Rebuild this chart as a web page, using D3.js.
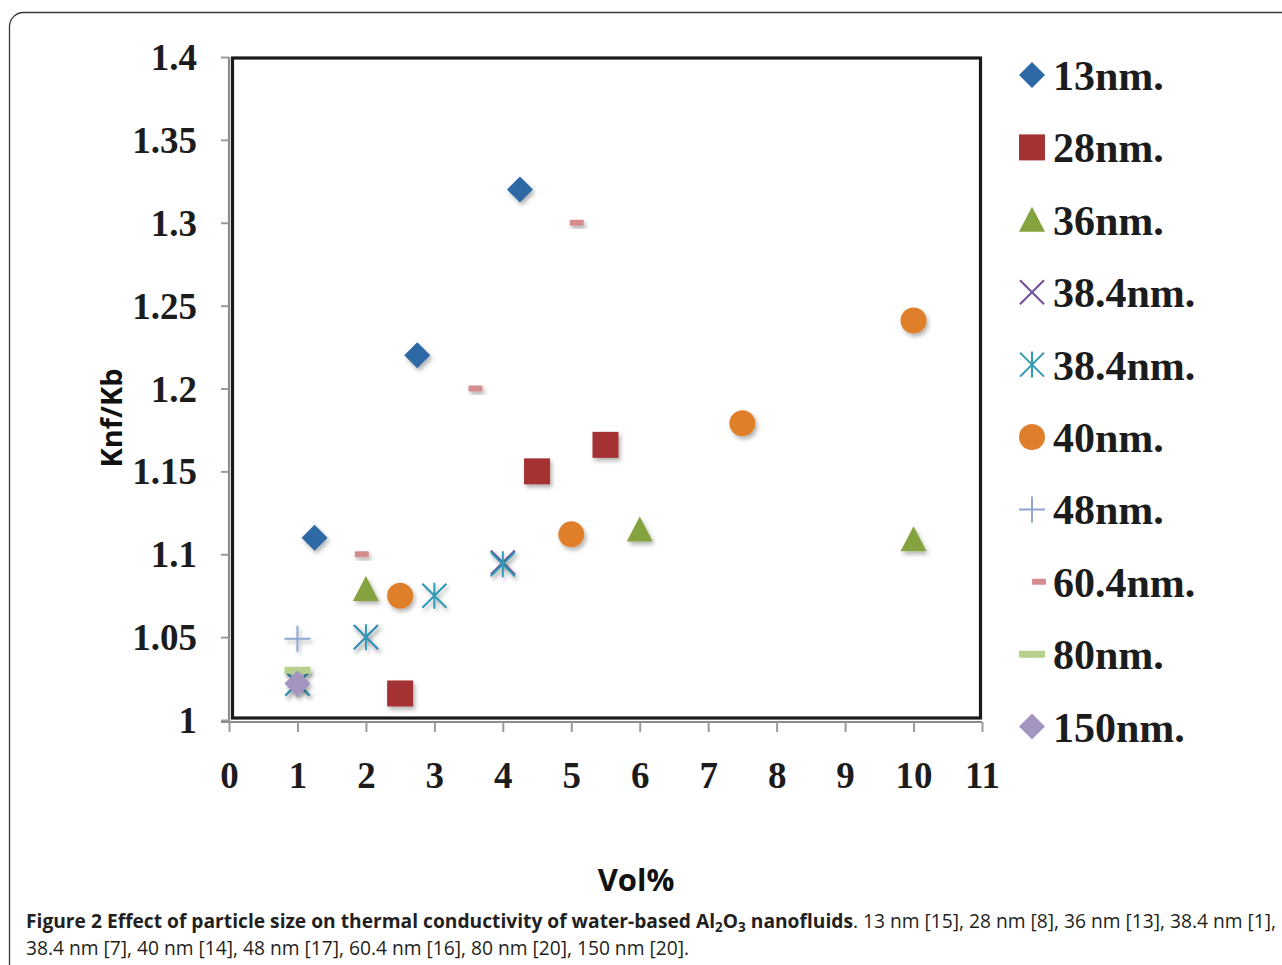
<!DOCTYPE html>
<html><head><meta charset="utf-8">
<script src="https://cdn.jsdelivr.net/npm/d3@7"></script>
<style>
html,body{margin:0;padding:0;background:#fff;}
svg{display:block;}
</style></head>
<body>
<svg id="chart" width="1282" height="965"></svg>
<script>
// ---- data ----
const seriesNames = ["13nm.","28nm.","36nm.","38.4nm.","38.4nm.","40nm.","48nm.","60.4nm.","80nm.","150nm."];
const s13  = [[1.25,1.11],[2.75,1.22],[4.25,1.32]];
const s28  = [[2.5,1.016],[4.5,1.15],[5.5,1.166]];
const s36  = [[2,1.079],[6,1.115],[10,1.109]];
const s384a = [[1,1.022],[2,1.05],[4,1.095]];
const s384b = [[1,1.022],[2,1.05],[3,1.075],[4,1.094]];
const s40  = [[2.5,1.075],[5,1.112],[7.5,1.179],[10,1.241]];
const s48  = [[1,1.049]];
const s604 = [[1.94,1.1],[3.6,1.2],[5.08,1.3]];
const s80  = [[1,1.03]];
const s150 = [[1,1.022]];
const xTicks = [0,1,2,3,4,5,6,7,8,9,10,11];
const yTicks = [1,1.05,1.1,1.15,1.2,1.25,1.3,1.35,1.4];
const yTickLabels = ["1","1.05","1.1","1.15","1.2","1.25","1.3","1.35","1.4"];
const xTitle = "Vol%";
const yTitle = "Knf/Kb";

const series = [
  {name:seriesNames[0], data:s13,  shape:"diamond", color:"#2d69a6"},
  {name:seriesNames[1], data:s28,  shape:"square",  color:"#a53331"},
  {name:seriesNames[2], data:s36,  shape:"triangle",color:"#84a23d"},
  {name:seriesNames[3], data:s384a,shape:"x",       color:"#6f4e9b"},
  {name:seriesNames[4], data:s384b,shape:"star",    color:"#2e9ab5"},
  {name:seriesNames[5], data:s40,  shape:"circle",  color:"#e07f2b"},
  {name:seriesNames[6], data:s48,  shape:"plus",    color:"#8ea6d0"},
  {name:seriesNames[7], data:s604, shape:"smalldash",color:"#d68c8e", legendDx:7},
  {name:seriesNames[8], data:s80,  shape:"dash",    color:"#b6d08e"},
  {name:seriesNames[9], data:s150, shape:"diamond", color:"#a494c0"}
];

const svg = d3.select("#chart");
const defs = svg.append("defs");
const f = defs.append("filter").attr("id","sh").attr("x","-50%").attr("y","-50%").attr("width","200%").attr("height","200%");
f.append("feDropShadow").attr("dx",2).attr("dy",3).attr("stdDeviation",2).attr("flood-color","#000").attr("flood-opacity",0.3);

// outer rounded frame
svg.append("rect").attr("x",9.5).attr("y",12.5).attr("width",1400).attr("height",1100)
  .attr("rx",14).attr("fill","none").attr("stroke","#3a3a3a").attr("stroke-width",1.3);

const x = d3.scaleLinear().domain([0,11]).range([229,982]);
const y = d3.scaleLinear().domain([1,1.4]).range([720,57]);

// plot frame (black)
svg.append("rect").attr("x",x(0)+3.5).attr("y",y(1.4)+1).attr("width",x(11)-x(0)-5).attr("height",y(1)-y(1.4)-3)
  .attr("fill","none").attr("stroke","#1a1a1a").attr("stroke-width",3.2);

const serif = "'Liberation Serif','Times New Roman',serif";
const sans = "'Open Sans','Noto Sans',sans-serif";

// y axis
const yAxis = svg.append("g").attr("transform",`translate(${x(0)},0)`)
  .call(d3.axisLeft(y).tickValues(yTicks).tickSize(8).tickPadding(24).tickFormat((d,i)=>yTickLabels[i]));
yAxis.select(".domain").attr("stroke","#8c8c8c").attr("stroke-width",2.2).attr("d",`M0,${y(1.4)}V${y(1)+2}`);
yAxis.selectAll(".tick line").attr("stroke","#9a9a9a").attr("stroke-width",2);
yAxis.selectAll("text").attr("font-family",serif).attr("font-weight","bold").attr("font-size",37).attr("fill","#1c1c1c").attr("dy","0.34em");

// x axis
const xAxis = svg.append("g").attr("transform",`translate(0,${y(1)+2})`)
  .call(d3.axisBottom(x).tickValues(xTicks).tickSize(10).tickPadding(30).tickFormat(d3.format("d")));
xAxis.select(".domain").attr("stroke","#8c8c8c").attr("stroke-width",2.2).attr("d",`M${x(0)-8},0H${x(11)}`);
xAxis.selectAll(".tick line").attr("stroke","#9a9a9a").attr("stroke-width",2);
xAxis.selectAll("text").attr("font-family",serif).attr("font-weight","bold").attr("font-size",37).attr("fill","#1c1c1c");

// titles
svg.append("text").attr("transform",`translate(122,418) rotate(-90)`).attr("text-anchor","middle")
  .attr("font-family",sans).attr("font-weight","bold").attr("font-size",29).attr("fill","#111").text(yTitle);
svg.append("text").attr("x",636).attr("y",891).attr("text-anchor","middle")
  .attr("font-family",sans).attr("font-weight","bold").attr("font-size",31).attr("fill","#111").text(xTitle);

// marker drawing
function drawMarker(g, shape, color){
  switch(shape){
    case "diamond": g.append("path").attr("d","M0,-13L13,0L0,13L-13,0Z").attr("fill",color); break;
    case "square": g.append("rect").attr("x",-13).attr("y",-13).attr("width",26).attr("height",26).attr("fill",color); break;
    case "triangle": g.append("path").attr("d","M0,-13L13,12L-13,12Z").attr("fill",color); break;
    case "circle": g.append("circle").attr("r",13).attr("fill",color); break;
    case "x": g.append("path").attr("d","M-12,-12L12,12M-12,12L12,-12").attr("stroke",color).attr("stroke-width",2).attr("fill","none"); break;
    case "star": g.append("path").attr("d","M-12,-12L12,12M-12,12L12,-12M0,-13V13").attr("stroke",color).attr("stroke-width",2).attr("fill","none"); break;
    case "plus": g.append("path").attr("d","M-13,0H13M0,-13V13").attr("stroke",color).attr("stroke-width",2).attr("fill","none"); break;
    case "smalldash": g.append("rect").attr("x",-7).attr("y",-3).attr("width",14).attr("height",6).attr("rx",1).attr("fill",color); break;
    case "dash": g.append("rect").attr("x",-13).attr("y",-3.5).attr("width",26).attr("height",7).attr("rx",1).attr("fill",color); break;
  }
}

// points
const pts = svg.append("g");
series.forEach(s=>{
  s.data.forEach(d=>{
    const g = pts.append("g").attr("transform",`translate(${x(d[0])},${y(d[1])})`).attr("filter","url(#sh)");
    drawMarker(g, s.shape, s.color);
  });
});

// legend
const leg = svg.append("g");
series.forEach((s,i)=>{
  const cy = 75 + i*72.4;
  const g = leg.append("g").attr("transform",`translate(${1032+(s.legendDx||0)},${cy})`);
  drawMarker(g, s.shape, s.color);
  leg.append("text").attr("x",1053).attr("y",cy+15).attr("font-family",serif).attr("font-weight","bold")
    .attr("font-size",42).attr("fill","#1c1c1c").text(s.name);
});

// caption
const capColor = "#231f20";
const c1 = svg.append("text").attr("x",26).attr("y",928).attr("font-family",sans).attr("font-size",17).attr("fill",capColor);
const b = c1.append("tspan").attr("font-weight","bold");
b.append("tspan").text("Figure 2 Effect of particle size on thermal conductivity of water-based Al");
b.append("tspan").attr("font-size","70%").attr("dy",4).text("2");
b.append("tspan").attr("dy",-4).text("O");
b.append("tspan").attr("font-size","70%").attr("dy",4).text("3");
b.append("tspan").attr("dy",-4).text(" nanofluids");
c1.append("tspan").text(". 13 nm [15], 28 nm [8], 36 nm [13], 38.4 nm [1],");
const c2 = svg.append("text").attr("x",26).attr("y",955).attr("font-family",sans).attr("font-size",17).attr("fill",capColor)
  .text("38.4 nm [7], 40 nm [14], 48 nm [17], 60.4 nm [16], 80 nm [20], 150 nm [20].");
// fit caption line 1 width to reference span
const L = c1.node().getComputedTextLength();
const fs = 17*1251/L;
c1.attr("font-size",fs); c2.attr("font-size",fs);
</script>
</body></html>
